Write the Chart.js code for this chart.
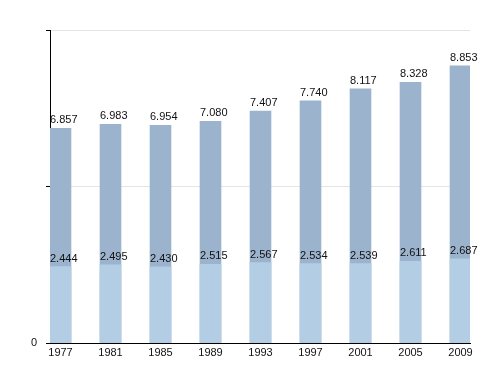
<!DOCTYPE html>
<html><head><meta charset="utf-8">
<script src="https://cdn.jsdelivr.net/npm/chart.js@4/dist/chart.umd.min.js"></script>
<style>html,body{margin:0;padding:0;background:#fff}#wrap{width:500px;height:373px}</style>
</head><body><div id="wrap"><canvas id="c" width="500" height="373"></canvas></div>
<script>
const years = ['1977','1981','1985','1989','1993','1997','2001','2005','2009'];
const totals = [6.857, 6.983, 6.954, 7.080, 7.407, 7.740, 8.117, 8.328, 8.853];
const lower = [2.444, 2.495, 2.430, 2.515, 2.567, 2.534, 2.539, 2.611, 2.687];
const yTicks = [0, 5, 10];
const yTickLabels = ['0', '', ''];

const FONT = 'Liberation Sans, Arial, Helvetica, sans-serif';
const labelPlugin = {
  id: 'vlabels',
  afterDatasetsDraw(chart) {
    const ctx = chart.ctx;
    ctx.save();
    ctx.font = '11px ' + FONT;
    ctx.fillStyle = '#111';
    ctx.textAlign = 'left';
    ctx.textBaseline = 'alphabetic';
    chart.data.datasets.forEach((ds, di) => {
      const meta = chart.getDatasetMeta(di);
      meta.data.forEach((bar, i) => {
        const txt = ds.data[i].y.toFixed(3);
        ctx.fillText(txt, bar.x - bar.width / 2, bar.y - 5);
      });
    });
    ctx.restore();
  }
};

new Chart(document.getElementById('c'), {
  type: 'bar',
  data: {
    datasets: [
      { label: 'lower', data: lower.map((v, i) => ({x: i, y: v})), backgroundColor: '#b3cde5', order: 0, grouped: false, barThickness: 21 },
      { label: 'total', data: totals.map((v, i) => ({x: i, y: v})), backgroundColor: '#9bb3cc', order: 1, grouped: false, barThickness: 21 }
    ]
  },
  options: {
    responsive: false,
    animation: false,
    devicePixelRatio: 1,
    layout: { padding: { top: 30, right: 30, left: 0, bottom: 0 } },
    plugins: { legend: { display: false }, tooltip: { enabled: false } },
    scales: {
      x: {
        type: 'linear',
        offset: false,
        min: -0.21, max: 8.19,
        afterBuildTicks(s) { s.ticks = years.map((y, i) => ({ value: i })); },
        afterFit(s) { s.height = 30; },
        grid: { drawOnChartArea: false, drawTicks: false, offset: false },
        border: { display: true, color: '#000', width: 1 },
        ticks: { padding: 3, color: '#111', font: { family: FONT, size: 11 }, autoSkip: false, maxRotation: 0,
                 callback: (v) => years[Math.round(v)] }
      },
      y: {
        min: 0, max: 10,
        afterBuildTicks(s) { s.ticks = yTicks.map(v => ({ value: v })); },
        afterFit(s) { s.width = 50; },
        grid: { color: (c) => c.tick && c.tick.value === 0 ? '#000' : '#e4e4e4', tickColor: '#000', tickLength: 4 },
        border: { display: true, color: '#000', width: 1 },
        ticks: { padding: 9, color: '#111', font: { family: FONT, size: 11 },
                 callback: (v, i) => yTickLabels[i] }
      }
    }
  },
  plugins: [labelPlugin]
});
</script>
</body></html>
